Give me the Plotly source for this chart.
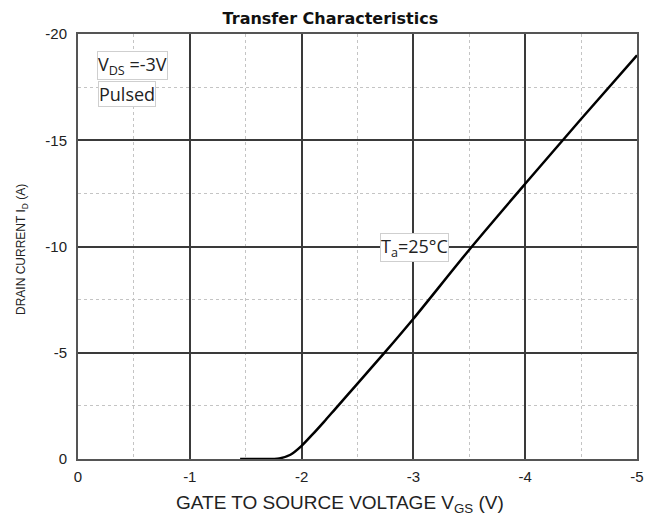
import plotly.graph_objects as go

# Data (V_GS in volts, I_D in amps)
vgs = [-1.45, -1.65, -1.8, -1.9, -2.0, -2.1, -2.2, -2.3, -2.5, -2.75,
       -3.0, -3.5, -4.0, -4.5, -5.0]
id_a = [0.0, 0.0, 0.03, 0.2, 0.62, 1.17, 1.75, 2.35, 3.55, 5.05,
        6.6, 9.85, 12.95, 16.0, 19.0]
id_neg = [-v for v in id_a]

x_ticks = [0, -1, -2, -3, -4, -5]
y_ticks = [0, -5, -10, -15, -20]

fig = go.Figure()
fig.add_trace(go.Scatter(
    x=vgs, y=id_neg, mode="lines",
    line=dict(color="black", width=2.5, shape="spline", smoothing=0.8),
    hoverinfo="skip", showlegend=False,
))

base = "Liberation Sans, Arial, sans-serif"
tick_font = dict(family=base, size=15, color="#222")

fig.update_layout(
    width=658, height=518,
    margin=dict(l=70, r=29, t=26, b=67),
    paper_bgcolor="white", plot_bgcolor="white",
    title=dict(text="<b>Transfer Characteristics</b>", x=0.49, xanchor="center",
               yref="container", y=0.99, yanchor="top",
               font=dict(family="DejaVu Sans, sans-serif", size=16, color="#111")),
    xaxis=dict(
        range=[0, -5], tickvals=x_ticks, ticktext=[str(v) for v in x_ticks],
        showgrid=True, gridcolor="#3a3a3a", gridwidth=1.5,
        minor=dict(dtick=0.5, tick0=0, showgrid=True, gridcolor="#c4c4c4",
                   griddash="dot", gridwidth=1),
        showline=True, linecolor="#555", linewidth=2, mirror=True,
        zeroline=False, ticks="", tickfont=tick_font, ticklabelstandoff=3,
    ),
    yaxis=dict(
        range=[0, -20], tickvals=y_ticks, ticktext=[str(v) for v in y_ticks],
        showgrid=True, gridcolor="#3a3a3a", gridwidth=1.5,
        minor=dict(dtick=2.5, tick0=0, showgrid=True, gridcolor="#c4c4c4",
                   griddash="dot", gridwidth=1),
        showline=True, linecolor="#555", linewidth=2, mirror=True,
        zeroline=False, ticks="", tickfont=tick_font, ticklabelstandoff=6,
    ),
)

# Axis titles
fig.add_annotation(xref="paper", yref="paper", x=0.469, y=-0.106,
                   xanchor="center", yanchor="middle", showarrow=False,
                   text="GATE TO SOURCE VOLTAGE V<sub>GS</sub> (V)",
                   font=dict(family=base, size=19, color="#222"))
fig.add_annotation(xref="paper", yref="paper", x=-0.100, y=0.492,
                   xanchor="center", yanchor="middle", showarrow=False,
                   textangle=-90, text="DRAIN CURRENT I<sub>D</sub> (A)",
                   font=dict(family=base, size=12, color="#222"))

ann_font = dict(family="Open Sans, DejaVu Sans, sans-serif", size=18, color="#222")
fig.add_annotation(x=-0.17, y=-18.5, xref="x", yref="y", xanchor="left", yanchor="middle",
                   text="V<sub>DS</sub> =-3V", showarrow=False, font=ann_font,
                   bordercolor="#cfcfcf", borderwidth=1, borderpad=0, bgcolor="white")
fig.add_annotation(x=-0.18, y=-17.2, xref="x", yref="y", xanchor="left", yanchor="middle",
                   text="Pulsed", showarrow=False, font=ann_font,
                   bordercolor="#cfcfcf", borderwidth=1, borderpad=0, bgcolor="white")
fig.add_annotation(x=-2.70, y=-9.93, xref="x", yref="y", xanchor="left", yanchor="middle",
                   text="T<sub>a</sub>=25°C", showarrow=False, font=ann_font,
                   bordercolor="#cfcfcf", borderwidth=1, borderpad=0, bgcolor="white")

fig.write_html("out.html")
